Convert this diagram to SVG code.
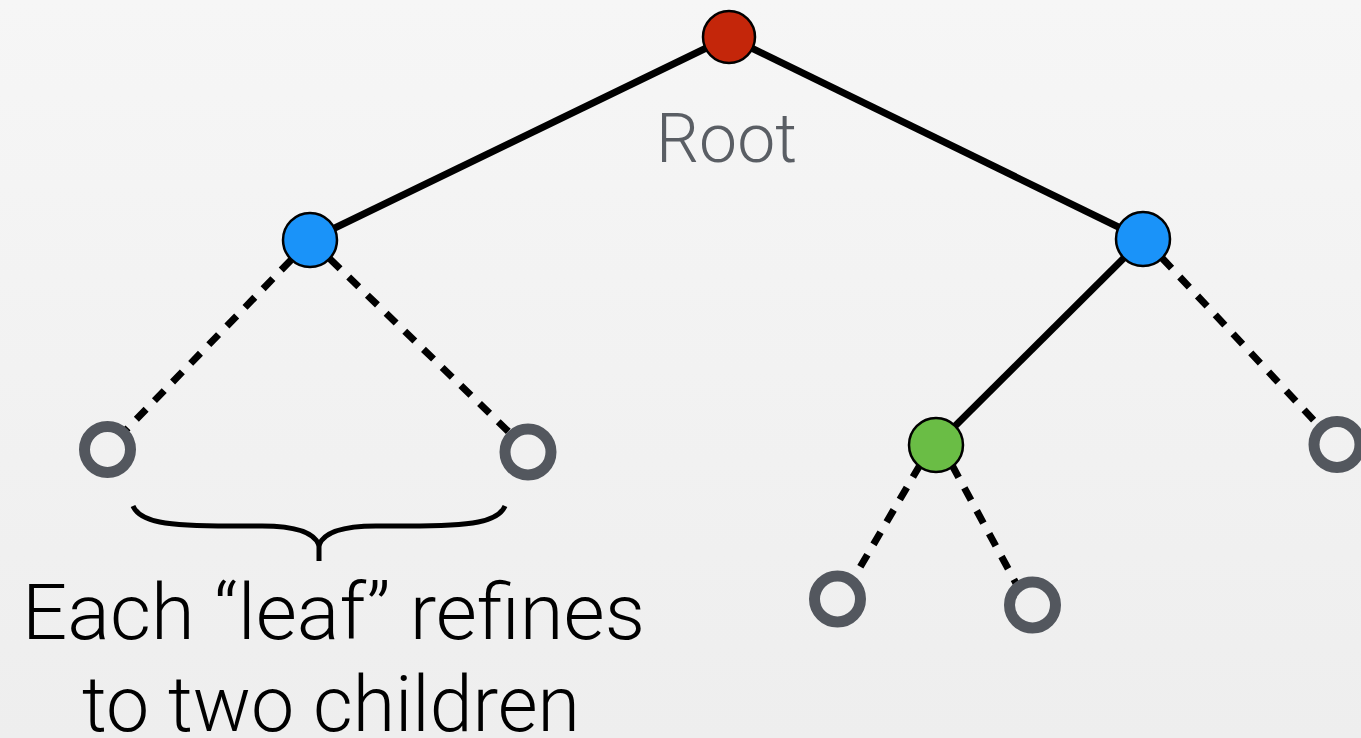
<svg xmlns="http://www.w3.org/2000/svg" width="1361" height="738" viewBox="0 0 1361 738">
<defs>
<linearGradient id="bg" x1="0" y1="0" x2="0" y2="1">
<stop offset="0" stop-color="#f6f6f6"/>
<stop offset="1" stop-color="#eeeeee"/>
</linearGradient>
<style>
.solid{stroke:#000;stroke-width:7;fill:none}
.dash{stroke:#000;stroke-width:7;fill:none;stroke-dasharray:14 12}
.node{stroke:#000;stroke-width:2.5}
.leaf{fill:none;stroke:#53575e;stroke-width:11}
.lbl{font-family:Roboto,"Liberation Sans",sans-serif;font-weight:300}
</style>
</defs>
<rect width="1361" height="738" fill="url(#bg)"/>
<g id="connectors">
<line class="solid" x1="729" y1="37" x2="310" y2="240"/>
<line class="solid" x1="729" y1="37" x2="1143" y2="239"/>
<line class="solid" x1="1143" y1="239" x2="936" y2="445"/>
<line class="dash" x1="291" y1="260" x2="124" y2="432"/>
<line class="dash" x1="330" y1="259" x2="511" y2="434"/>
<line class="dash" x1="1162" y1="258" x2="1320" y2="427"/>
<line class="dash" x1="920" y1="465" x2="852" y2="581"/>
<line class="dash" x1="952" y1="465" x2="1018" y2="587"/>
</g>
<g id="root"><circle class="node" cx="729" cy="37" r="26" fill="#c4260a"/></g>
<g id="left-blue"><circle class="node" cx="310" cy="240" r="27" fill="#1a93f9"/></g>
<g id="right-blue"><circle class="node" cx="1143" cy="239" r="27" fill="#1a93f9"/></g>
<g id="green"><circle class="node" cx="936" cy="445" r="27" fill="#6abd45"/></g>
<g id="leaf1"><circle class="leaf" cx="107.5" cy="449.5" r="23"/></g>
<g id="leaf2"><circle class="leaf" cx="528" cy="452" r="23"/></g>
<g id="leaf3"><circle class="leaf" cx="1337" cy="444.5" r="23"/></g>
<g id="leaf4"><circle class="leaf" cx="837.5" cy="599" r="23"/></g>
<g id="leaf5"><circle class="leaf" cx="1032.5" cy="605" r="23"/></g>
<g id="brace">
<path d="M133,506 C140,522 165,526 230,526 L262,526 C295,526 314,532 319,545 C324,532 343,526 376,526 L408,526 C473,526 498,522 505,506" fill="none" stroke="#000" stroke-width="5"/>
<line x1="319" y1="540" x2="319" y2="561" stroke="#000" stroke-width="5"/>
</g>
<text class="lbl" x="726.5" y="162" font-size="69" fill="#5a5e64" text-anchor="middle" textLength="141" lengthAdjust="spacingAndGlyphs">Root</text>
<text class="lbl" x="333.5" y="639" font-size="78" fill="#000" text-anchor="middle" textLength="623" lengthAdjust="spacingAndGlyphs">Each “leaf” refines</text>
<text class="lbl" x="331" y="731" font-size="78" fill="#000" text-anchor="middle" textLength="498" lengthAdjust="spacingAndGlyphs">to two children</text>
</svg>
